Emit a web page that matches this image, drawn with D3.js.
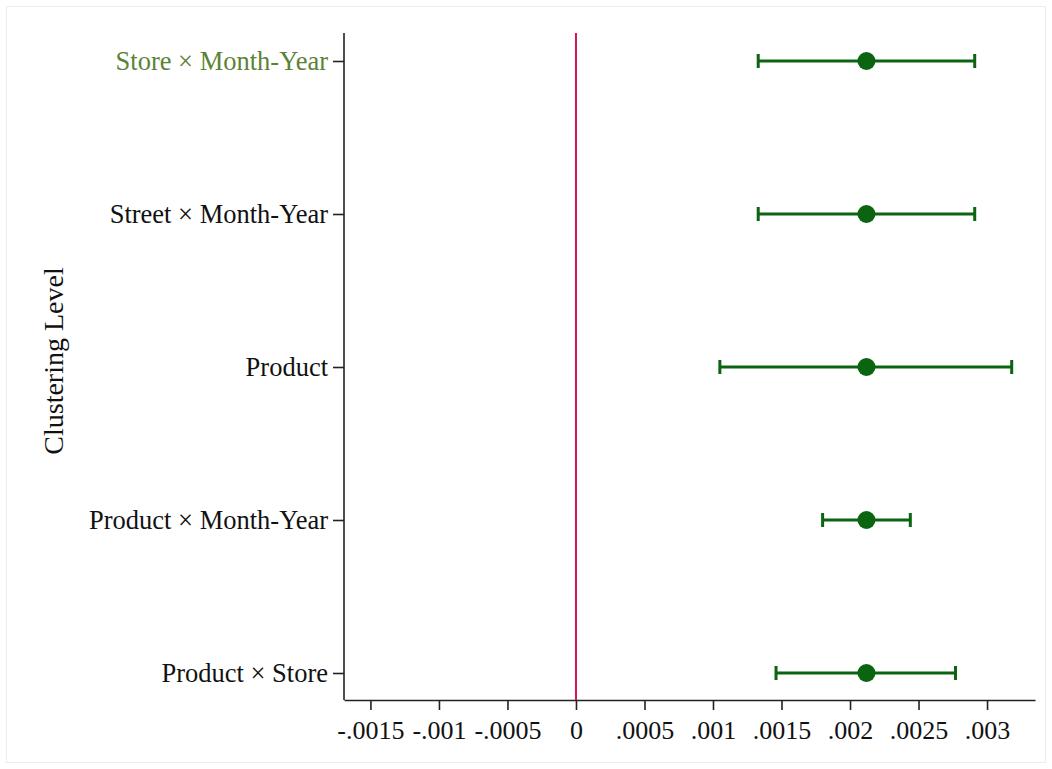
<!DOCTYPE html>
<html>
<head>
<meta charset="utf-8">
<script src="https://cdn.jsdelivr.net/npm/d3@7"></script>
<style>
  html, body { margin: 0; padding: 0; background: #fff; }
  svg { display: block; }
  text { font-family: "Liberation Serif", "Times New Roman", serif; }
</style>
</head>
<body>
<svg id="chart" width="1052" height="769"></svg>
<script>
// Clustering levels, top to bottom
const categories = [
  "Store × Month-Year",
  "Street × Month-Year",
  "Product",
  "Product × Month-Year",
  "Product × Store"
];
// Point estimates and 95% confidence bounds
const estimates = [0.00212, 0.00212, 0.00212, 0.00212, 0.00212];
const lowerCI   = [0.00133, 0.00133, 0.00105, 0.00180, 0.00146];
const upperCI   = [0.00291, 0.00291, 0.00318, 0.00244, 0.00277];
// X-axis tick values and labels
const tickValues = [-0.0015, -0.001, -0.0005, 0, 0.0005, 0.001, 0.0015, 0.002, 0.0025, 0.003];
const tickLabels = ["-.0015", "-.001", "-.0005", "0", ".0005", ".001", ".0015", ".002", ".0025", ".003"];

const rows = categories.map((c, i) => ({ c, est: estimates[i], lo: lowerCI[i], hi: upperCI[i] }));

const svg = d3.select("#chart");
const W = 1052, H = 769;

// faint frame around the figure
svg.append("rect")
  .attr("x", 6.5).attr("y", 6.5).attr("width", W - 13).attr("height", H - 13)
  .attr("fill", "#fff").attr("stroke", "#ececec").attr("stroke-width", 1);

const plot = { left: 344, right: 1035, top: 33, bottom: 700 };

const x = d3.scaleLinear()
  .domain([-0.001693, 0.00335])
  .range([plot.left, plot.right]);

const y = d3.scalePoint()
  .domain(categories)
  .range([61, 673]);

const green = "#0a6410";
const xFont = 26;
const yFont = 26.5;
const titleFont = 28;

// X axis
const xAxis = d3.axisBottom(x)
  .tickValues(tickValues)
  .tickFormat((d, i) => tickLabels[i])
  .tickSizeInner(10)
  .tickSizeOuter(0)
  .tickPadding(10.5);

const gx = svg.append("g")
  .attr("transform", `translate(0,${plot.bottom})`)
  .call(xAxis);
gx.select(".domain").attr("stroke", "#222").attr("stroke-width", 1.6);
gx.selectAll(".tick line").attr("stroke", "#222").attr("stroke-width", 1.6);
gx.selectAll(".tick text")
  .attr("fill", "#111")
  .style("font-family", '"Liberation Serif", serif')
  .style("font-size", xFont + "px");

// Y axis
const yAxis = d3.axisLeft(y)
  .tickSizeInner(11)
  .tickSizeOuter(0)
  .tickPadding(5);

const gy = svg.append("g")
  .attr("transform", `translate(${plot.left},0)`)
  .call(yAxis);
gy.select(".domain")
  .attr("d", `M0,${plot.top}V${plot.bottom}`)
  .attr("stroke", "#222").attr("stroke-width", 1.6);
gy.selectAll(".tick line").attr("stroke", "#222").attr("stroke-width", 1.6);
gy.selectAll(".tick text")
  .attr("fill", (d, i) => i === 0 ? "#5b8236" : "#111")
  .style("font-family", '"Liberation Serif", serif')
  .style("font-size", yFont + "px");

// Y axis title
svg.append("text")
  .attr("transform", `translate(63,361) rotate(-90)`)
  .attr("text-anchor", "middle")
  .attr("fill", "#111")
  .style("font-size", titleFont + "px")
  .text("Clustering Level");

// Reference line at zero
svg.append("line")
  .attr("x1", x(0)).attr("x2", x(0))
  .attr("y1", plot.top).attr("y2", plot.bottom)
  .attr("stroke", "#d0184a").attr("stroke-width", 2);

// Confidence intervals
const g = svg.append("g");
g.selectAll("line.ci")
  .data(rows).join("line")
  .attr("class", "ci")
  .attr("x1", d => x(d.lo)).attr("x2", d => x(d.hi))
  .attr("y1", d => y(d.c)).attr("y2", d => y(d.c))
  .attr("stroke", green).attr("stroke-width", 3);

const capH = 7;
g.selectAll("line.capL")
  .data(rows).join("line")
  .attr("x1", d => x(d.lo)).attr("x2", d => x(d.lo))
  .attr("y1", d => y(d.c) - capH).attr("y2", d => y(d.c) + capH)
  .attr("stroke", green).attr("stroke-width", 3);
g.selectAll("line.capR")
  .data(rows).join("line")
  .attr("x1", d => x(d.hi)).attr("x2", d => x(d.hi))
  .attr("y1", d => y(d.c) - capH).attr("y2", d => y(d.c) + capH)
  .attr("stroke", green).attr("stroke-width", 3);

// Point estimates
g.selectAll("circle")
  .data(rows).join("circle")
  .attr("cx", d => x(d.est)).attr("cy", d => y(d.c))
  .attr("r", 9)
  .attr("fill", green);
</script>
</body>
</html>
